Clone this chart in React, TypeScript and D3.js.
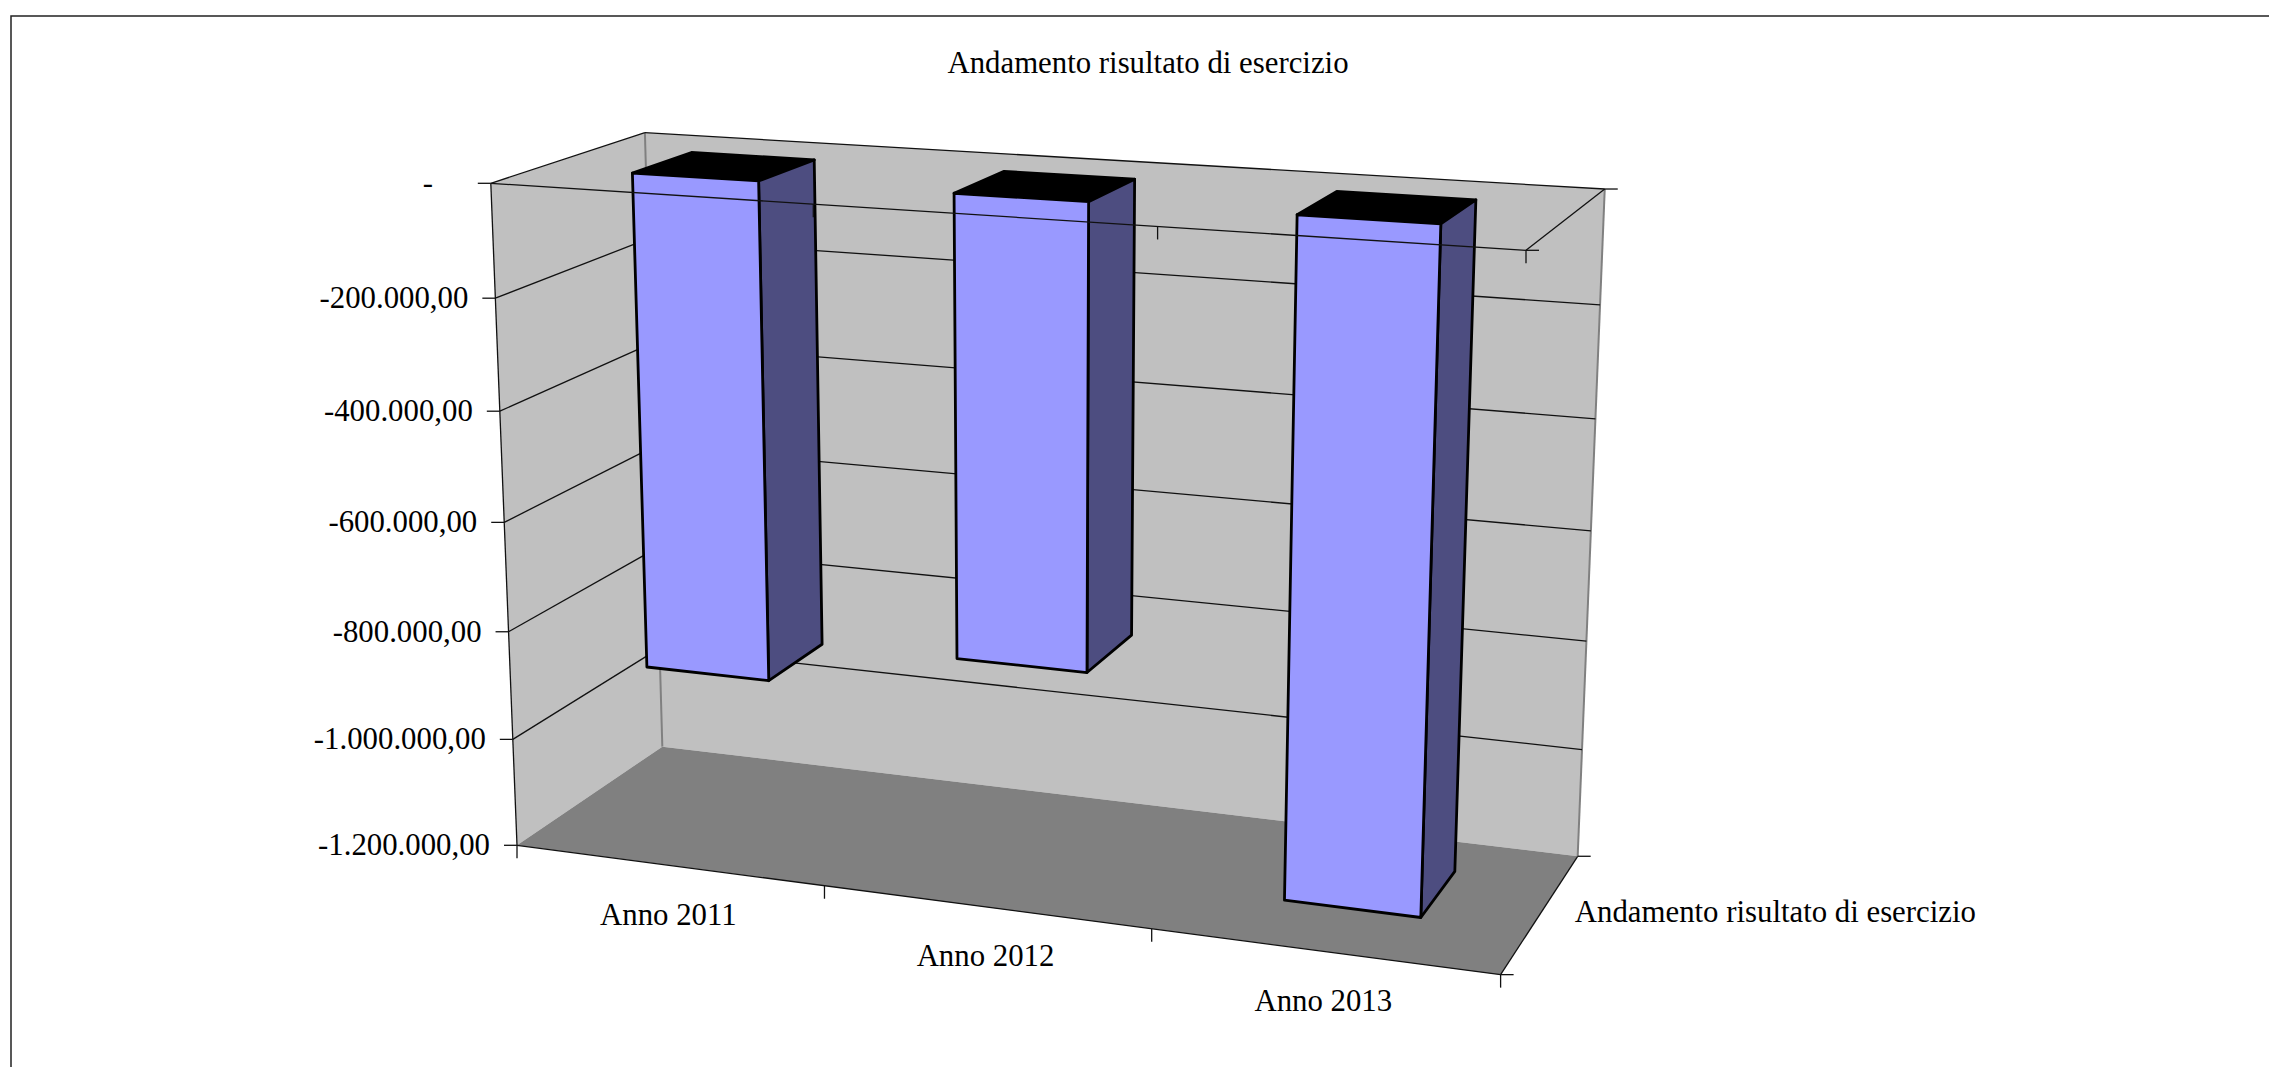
import { useEffect, useRef } from "react";
import * as d3 from "d3";

// ── Data ──────────────────────────────────────────────────────────────────────
const categories = ["Anno 2011", "Anno 2012", "Anno 2013"];
const results = [-898000, -819000, -1189000];
const yTicks = [0, -200000, -400000, -600000, -800000, -1000000, -1200000];
const title = "Andamento risultato di esercizio";
const seriesNames = ["Andamento risultato di esercizio"];

// ── Perspective box: anchor corners on screen + per-axis perspective terms ───
type P = [number, number];
const O: P = [490.8, 183.3]; // front, left, value 0
const U: P = [1526, 250.3]; // front, right, value 0
const V: P = [517, 845.3]; // front, left, value min
const W: P = [644.9, 132.7]; // back, left, value 0
const GU = -0.095;
const GV = 0.05;
const GW = 0.0863;

const project = (u: number, v: number, w: number): P => {
  const d = 1 + GU * u + GV * v + GW * w;
  const at = (i: 0 | 1) =>
    (O[i] +
      u * ((1 + GU) * U[i] - O[i]) +
      v * ((1 + GV) * V[i] - O[i]) +
      w * ((1 + GW) * W[i] - O[i])) /
    d;
  return [at(0), at(1)];
};

// ── Scales ────────────────────────────────────────────────────────────────────
const xBand = d3.scaleBand<string>().domain(categories).range([0, 1]).paddingInner(0.6).paddingOuter(0.3);
const xStep = d3.scalePoint<string>().domain(categories).range([1 / 6, 5 / 6]);
const zBand = d3.scaleBand<string>().domain(seriesNames).range([0, 1]).paddingInner(0.6).paddingOuter(0.3);
const yScale = d3.scaleLinear().domain([0, -1200000]).range([0, 1]);

const it = d3.formatLocale({
  decimal: ",",
  thousands: ".",
  grouping: [3],
  currency: ["€", ""],
  minus: "-",
} as d3.FormatLocaleDefinition);
const fmt = it.format(",.2f");

const FONT = "'Liberation Serif', 'Times New Roman', serif";
const FS = 30.8;
const TICK = 13;

export default function App() {
  const svgRef = useRef<SVGSVGElement>(null);

  useEffect(() => {
    if (!svgRef.current) return;
    const svg = d3.select(svgRef.current);
    svg.selectAll("*").remove();

    const line = d3.line();
    const poly = (pts: P[]) => line(pts) + "Z";
    const stroke = (a: P, b: P, color = "#111", w = 1.3) =>
      svg.append("path").attr("d", line([a, b])).attr("stroke", color).attr("stroke-width", w).attr("fill", "none");
    const label = (x: number, y: number, s: string, anchor: string) =>
      svg.append("text")
        .attr("x", x).attr("y", y)
        .attr("text-anchor", anchor)
        .attr("font-family", FONT)
        .attr("font-size", FS)
        .attr("fill", "#000")
        .text(s);

    // frame runs off the page on the right and bottom
    svg.append("rect")
      .attr("x", 11).attr("y", 16).attr("width", 2400).attr("height", 1200)
      .attr("fill", "#fff").attr("stroke", "#222").attr("stroke-width", 1.5);

    label(1148, 73, title, "middle");

    // ── Walls and floor ──────────────────────────────────────────────
    svg.append("path")
      .attr("d", poly([project(0, 0, 0), project(0, 0, 1), project(0, 1, 1), project(0, 1, 0)]))
      .attr("fill", "#c0c0c0");
    svg.append("path")
      .attr("d", poly([project(0, 0, 1), project(1, 0, 1), project(1, 1, 1), project(0, 1, 1)]))
      .attr("fill", "#c0c0c0");
    svg.append("path")
      .attr("d", poly([project(0, 1, 0), project(1, 1, 0), project(1, 1, 1), project(0, 1, 1)]))
      .attr("fill", "#808080");

    stroke(project(0, 0, 1), project(0, 1, 1), "#808080", 2);
    stroke(project(1, 0, 1), project(1, 1, 1), "#808080", 2);

    // ── Grid lines ───────────────────────────────────────────────────
    yTicks.slice(1, -1).forEach((t) => {
      const v = yScale(t);
      stroke(project(0, v, 0), project(0, v, 1));
      stroke(project(0, v, 1), project(1, v, 1));
    });

    // ── Bars ─────────────────────────────────────────────────────────
    categories.forEach((c, i) => {
      const u0 = xBand(c) as number;
      const u1 = u0 + xBand.bandwidth();
      const w0 = zBand(seriesNames[0]) as number;
      const w1 = w0 + zBand.bandwidth();
      const v = yScale(results[i]);

      const faces: [P[], string][] = [
        [[project(u0, 0, w0), project(u1, 0, w0), project(u1, 0, w1), project(u0, 0, w1)], "#000"],
        [[project(u1, 0, w0), project(u1, 0, w1), project(u1, v, w1), project(u1, v, w0)], "#4d4d80"],
        [[project(u0, 0, w0), project(u1, 0, w0), project(u1, v, w0), project(u0, v, w0)], "#9999ff"],
      ];
      faces.forEach(([pts, fill]) => {
        svg.append("path")
          .attr("d", poly(pts))
          .attr("fill", fill)
          .attr("stroke", "#000")
          .attr("stroke-width", 2.8)
          .attr("stroke-linejoin", "round");
      });
    });

    // ── Axis lines, drawn over the bars ──────────────────────────────
    stroke(project(0, 0, 0), project(0, 1, 0));
    stroke(project(0, 0, 0), project(1, 0, 0));
    stroke(project(0, 0, 0), project(0, 0, 1));
    stroke(project(0, 0, 1), project(1, 0, 1));
    stroke(project(1, 0, 0), project(1, 0, 1));
    stroke(project(0, 1, 0), project(1, 1, 0));
    stroke(project(1, 1, 0), project(1, 1, 1));

    // y ticks and labels
    yTicks.forEach((t) => {
      const [x, y] = project(0, yScale(t), 0);
      stroke([x - TICK, y], [x, y]);
      if (t === 0) label(x - 68, y + 10, "-", "start");
      else label(x - TICK - 14, y + 10, fmt(t), "end");
    });

    // x ticks, bottom and top of the box
    [0, 1 / 3, 2 / 3, 1].forEach((u) => {
      const [bx, by] = project(u, 1, 0);
      stroke([bx, by], [bx, by + TICK]);
      if (u > 0) {
        const [tx, ty] = project(u, 0, 0);
        stroke([tx, ty], [tx, ty + TICK]);
      }
    });

    // depth ticks on the right
    [project(1, 1, 0), project(1, 1, 1), project(1, 0, 0), project(1, 0, 1)].forEach(([x, y]) => {
      stroke([x, y], [x + TICK, y]);
    });

    categories.forEach((c) => {
      const [x, y] = project(xStep(c) as number, 1, 0);
      label(x, y + 59.5, c, "middle");
    });

    const [dx, dy] = project(1, 1, 0.5);
    label(dx + 34, dy + 9.4, seriesNames[0], "start");
  }, []);

  return (
    <svg
      ref={svgRef}
      width={2269}
      height={1067}
      style={{ position: "absolute", left: 0, top: 0, display: "block", background: "#fff" }}
    />
  );
}
